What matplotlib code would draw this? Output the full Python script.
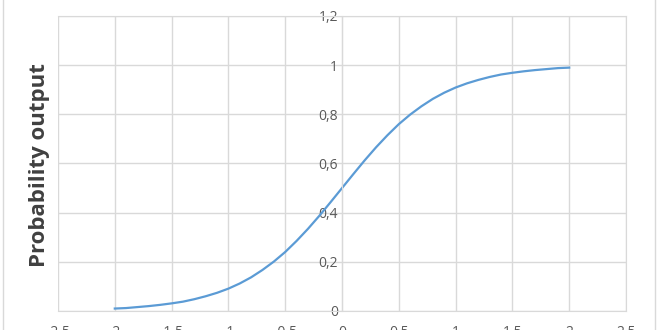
import matplotlib.pyplot as plt
from matplotlib.lines import Line2D
from matplotlib.ticker import FuncFormatter, MultipleLocator

# valores (x de -2 a 2, passo 0,1)
x_vals = [-2.0, -1.9, -1.8, -1.7, -1.6, -1.5, -1.4, -1.3, -1.2, -1.1, -1.0,
          -0.9, -0.8, -0.7, -0.6, -0.5, -0.4, -0.3, -0.2, -0.1, 0.0,
          0.1, 0.2, 0.3, 0.4, 0.5, 0.6, 0.7, 0.8, 0.9, 1.0,
          1.1, 1.2, 1.3, 1.4, 1.5, 1.6, 1.7, 1.8, 1.9, 2.0]
prob = [0.010, 0.012, 0.016, 0.020, 0.025, 0.031, 0.038, 0.048, 0.060, 0.074, 0.091,
        0.112, 0.137, 0.167, 0.201, 0.240, 0.285, 0.334, 0.387, 0.443, 0.500,
        0.557, 0.613, 0.666, 0.715, 0.760, 0.799, 0.833, 0.863, 0.888, 0.909,
        0.926, 0.940, 0.952, 0.962, 0.969, 0.975, 0.980, 0.984, 0.988, 0.990]

cor_grade = '#d9d9d9'
cor_texto = '#595959'
cor_linha = '#5B9BD5'

plt.rcParams['font.family'] = ['Open Sans', 'DejaVu Sans']

fig = plt.figure(figsize=(6.6, 3.3), dpi=100)
ax = fig.add_axes([58 / 660, 19 / 330, 568 / 660, 295 / 330])

ax.plot(x_vals, prob, color=cor_linha, linewidth=1.6)

ax.set_xlim(-2.5, 2.5)
ax.set_ylim(0, 1.2)
ax.xaxis.set_major_locator(MultipleLocator(0.5))
ax.yaxis.set_major_locator(MultipleLocator(0.2))

virgula = FuncFormatter(lambda v, p: f'{v:g}'.replace('.', ','))
ax.xaxis.set_major_formatter(virgula)
ax.yaxis.set_major_formatter(virgula)

ax.grid(True, color=cor_grade, linewidth=1)
ax.set_axisbelow(True)

# eixo Y passando pelo zero
ax.spines['left'].set_position(('data', 0))
for lado in ['left', 'bottom', 'right', 'top']:
    ax.spines[lado].set_color(cor_grade)

ax.tick_params(axis='both', length=0, labelsize=10, labelcolor=cor_texto)
ax.tick_params(axis='x', pad=10)
ax.tick_params(axis='y', pad=3)

fig.text(40 / 660, 0.5, 'Probability output', rotation=90, ha='center', va='center',
         fontsize=16, fontweight='bold', color='#404040')

# borda do gráfico
fig.add_artist(Line2D([3 / 660, 3 / 660], [0, 1], transform=fig.transFigure, color=cor_grade, linewidth=1))
fig.add_artist(Line2D([655 / 660, 655 / 660], [0, 1], transform=fig.transFigure, color=cor_grade, linewidth=1))

fig.savefig('out.png', dpi=100)
